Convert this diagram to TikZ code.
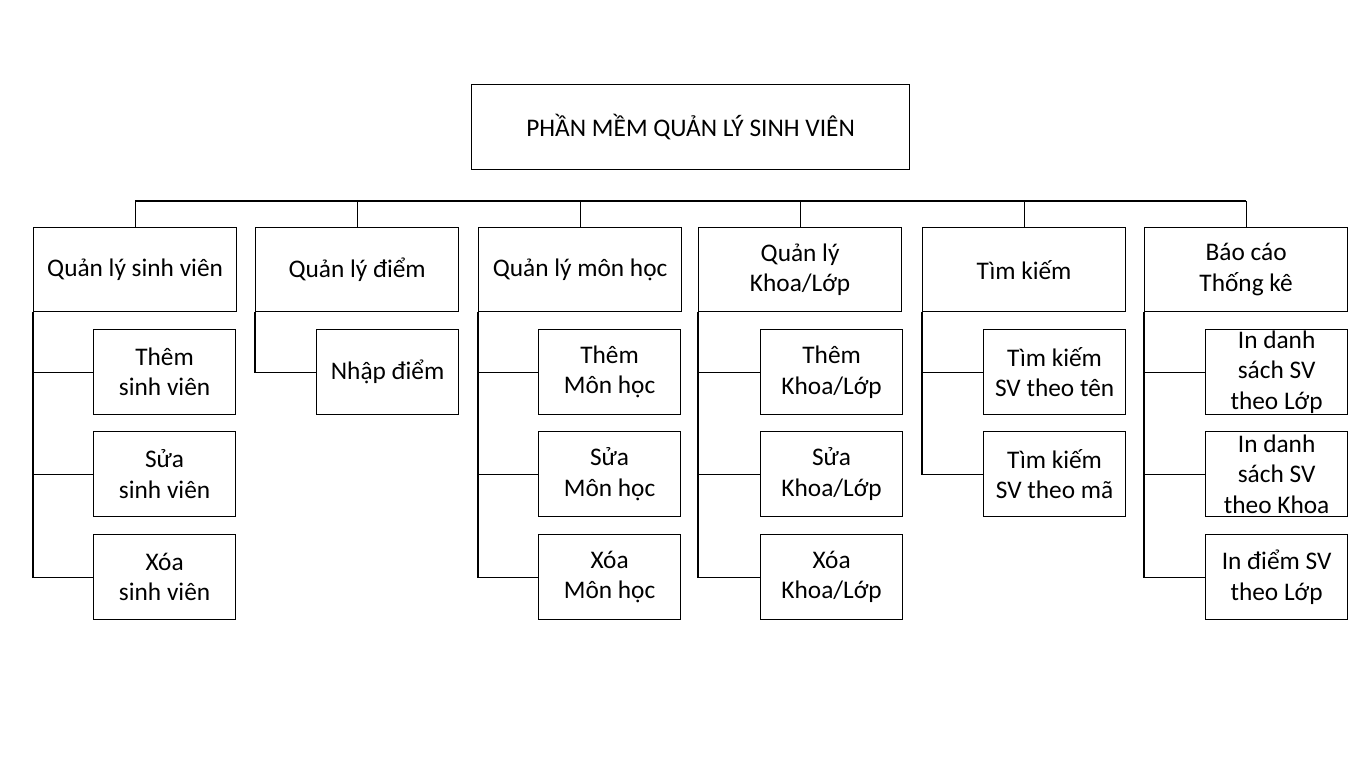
\documentclass[tikz,border=0pt]{standalone}
\usepackage{fontspec}
\setmainfont{Carlito}
\begin{document}
\begin{tikzpicture}[x=0.75pt,y=-0.75pt,
  box/.style={draw, line width=0.9pt, rectangle, inner sep=0pt, anchor=north west},
  topbox/.style={box, minimum width=328.5pt, minimum height=63.75pt},
  mainbox/.style={box, minimum width=152.25pt, minimum height=63pt},
  subbox/.style={box, minimum width=106.5pt, minimum height=63.75pt},
  txt/.style={align=center, font=\fontsize{19}{22.75}\selectfont, inner sep=0pt},
  link/.style={line width=0.9pt}]
\useasboundingbox (0,0) rectangle (1366,768);
% root
\node[topbox] (root) at (471,84) {};
\node[txt] (roott) at (root.center) {PHẦN MỀM QUẢN LÝ SINH VIÊN};
% level 2
\node[mainbox] (m1) at (33,227) {};
\node[mainbox] (m2) at (255,227) {};
\node[mainbox] (m3) at (478,227) {};
\node[mainbox] (m4) at (698,227) {};
\node[mainbox] (m5) at (922,227) {};
\node[mainbox] (m6) at (1144,227) {};
\node[txt] (m1t) at (m1.center) {Quản lý sinh viên};
\node[txt] (m2t) at (m2.center) {Quản lý điểm};
\node[txt] (m3t) at (m3.center) {Quản lý môn học};
\node[txt] (m4t) at (m4.center) {Quản lý\\Khoa/Lớp};
\node[txt] (m5t) at (m5.center) {Tìm kiếm};
\node[txt] (m6t) at (m6.center) {Báo cáo\\Thống kê};
% children
\node[subbox] (c11) at (93,329) {};
\node[subbox] (c12) at (93,431) {};
\node[subbox] (c13) at (93,534) {};
\node[subbox] (c21) at (316,329) {};
\node[subbox] (c31) at (538,329) {};
\node[subbox] (c32) at (538,431) {};
\node[subbox] (c33) at (538,534) {};
\node[subbox] (c41) at (760,329) {};
\node[subbox] (c42) at (760,431) {};
\node[subbox] (c43) at (760,534) {};
\node[subbox] (c51) at (983,329) {};
\node[subbox] (c52) at (983,431) {};
\node[subbox] (c61) at (1205,329) {};
\node[subbox] (c62) at (1205,431) {};
\node[subbox] (c63) at (1205,534) {};
\node[txt] (c11t) at (c11.center) {Thêm\\sinh viên};
\node[txt] (c12t) at (c12.center) {Sửa\\sinh viên};
\node[txt] (c13t) at (c13.center) {Xóa\\sinh viên};
\node[txt] (c21t) at (c21.center) {Nhập điểm};
\node[txt] (c31t) at (c31.center) {Thêm\\Môn học};
\node[txt] (c32t) at (c32.center) {Sửa\\Môn học};
\node[txt] (c33t) at (c33.center) {Xóa\\Môn học};
\node[txt] (c41t) at (c41.center) {Thêm\\Khoa/Lớp};
\node[txt] (c42t) at (c42.center) {Sửa\\Khoa/Lớp};
\node[txt] (c43t) at (c43.center) {Xóa\\Khoa/Lớp};
\node[txt] (c51t) at (c51.center) {Tìm kiếm\\SV theo tên};
\node[txt] (c52t) at (c52.center) {Tìm kiếm\\SV theo mã};
\node[txt] (c61t) at (c61.center) {In danh\\sách SV\\theo Lớp};
\node[txt] (c62t) at (c62.center) {In danh\\sách SV\\theo Khoa};
\node[txt] (c63t) at (c63.center) {In điểm SV\\theo Lớp};
% bus
\coordinate (bus) at (0,201);
\draw[link] (m1.north |- bus) -- (m6.north |- bus);
\foreach \m in {m1,m2,m3,m4,m5,m6}{
  \draw[link] (\m.north) -- (\m.north |- bus);
}
% spines
\draw[link] (m1.south west) |- (c13.west);
\draw[link] (m1.south west |- c11.west) -- (c11.west);
\draw[link] (m1.south west |- c12.west) -- (c12.west);
\draw[link] (m2.south west) |- (c21.west);
\draw[link] (m3.south west) |- (c33.west);
\draw[link] (m3.south west |- c31.west) -- (c31.west);
\draw[link] (m3.south west |- c32.west) -- (c32.west);
\draw[link] (m4.south west) |- (c43.west);
\draw[link] (m4.south west |- c41.west) -- (c41.west);
\draw[link] (m4.south west |- c42.west) -- (c42.west);
\draw[link] (m5.south west) |- (c52.west);
\draw[link] (m5.south west |- c51.west) -- (c51.west);
\draw[link] (m6.south west) |- (c63.west);
\draw[link] (m6.south west |- c61.west) -- (c61.west);
\draw[link] (m6.south west |- c62.west) -- (c62.west);
\end{tikzpicture}
\end{document}
